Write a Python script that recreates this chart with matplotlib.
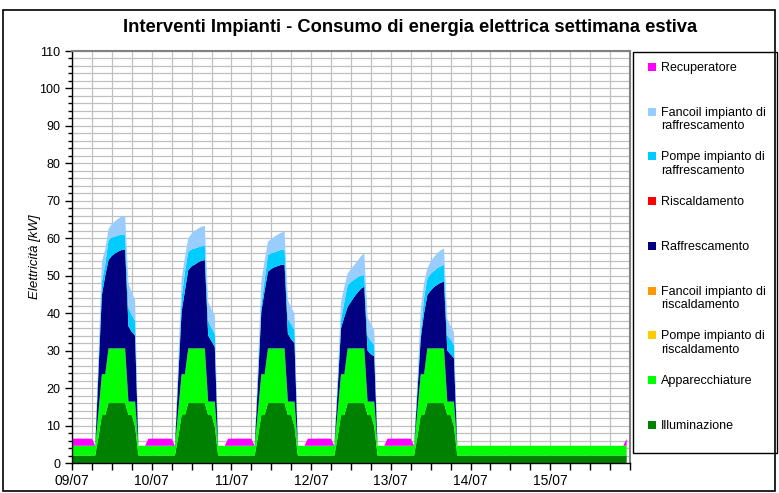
import numpy as np
import matplotlib
matplotlib.use("Agg")
import matplotlib.pyplot as plt
from matplotlib.patches import Rectangle

plt.rcParams['font.family'] = ['Liberation Sans', 'DejaVu Sans']

W, H, DPI = 779, 493, 100

title = "Interventi Impianti - Consumo di energia elettrica settimana estiva"
ylabel = "Elettricità [kW]"
day_labels = ["09/07", "10/07", "11/07", "12/07", "13/07", "14/07", "15/07"]
n_days = 7
n_workdays = 5

# Hourly weekday profiles (kW), hours 0..23
illuminazione_feriale = [2, 2, 2, 2, 2, 2, 2, 2, 7, 12.8, 12.8, 16, 16, 16, 16, 16, 16,
                         12.8, 12.8, 9.7, 2, 2, 2, 2]
apparecchiature_feriale = [2.6, 2.6, 2.6, 2.6, 2.6, 2.6, 2.6, 2.6, 7, 10.9, 10.9, 14.6, 14.6,
                           14.6, 14.6, 14.6, 14.6, 3.6, 3.6, 6.7, 2.6, 2.6, 2.6, 2.6]
# Weekend base loads (kW)
illuminazione_festivo = 2.0
apparecchiature_festivo = 2.6

# Cooling loads per working day, hours 8..19 (kW)
cool_start_hour = 8
raffrescamento = [
    [11, 21.2, 26.3, 23.6, 24.7, 25.4, 25.9, 26.3, 26.4, 20.1, 18.6, 17.6],
    [9, 16.7, 22.3, 20.9, 21.9, 22.4, 23.0, 23.4, 23.6, 17.6, 16.1, 14.6],
    [8, 16.7, 22.3, 20.5, 21.2, 21.7, 22.0, 22.3, 22.4, 18.1, 16.6, 15.6],
    [6, 12.3, 15.3, 11.1, 12.4, 13.8, 14.9, 15.9, 16.5, 13.6, 12.6, 12.1],
    [5, 9.6, 16.3, 14.3, 15.4, 16.4, 17.0, 17.5, 17.8, 13.6, 12.6, 11.6],
]
pompe_raffrescamento = [
    [2, 3.5, 3.0, 5.3, 4.9, 4.5, 4.3, 4.1, 4.0, 5.0, 4.5, 4.0],
    [2, 3.6, 5.0, 4.9, 4.5, 4.3, 4.0, 3.8, 3.8, 4.0, 3.5, 3.5],
    [2, 1.8, 3.0, 4.4, 4.2, 4.0, 4.0, 4.0, 4.0, 4.0, 4.0, 3.5],
    [1.5, 2.2, 4.0, 5.8, 5.3, 4.6, 4.1, 3.5, 3.1, 4.0, 3.5, 3.0],
    [1.5, 1.7, 4.0, 4.4, 4.5, 4.3, 4.4, 4.4, 4.5, 4.0, 4.0, 3.5],
]
fancoil_raffrescamento = [
    [2, 5.4, 4.0, 3.0, 3.6, 4.1, 4.5, 4.8, 5.0, 6.5, 6.0, 5.5],
    [2, 5.0, 4.0, 3.6, 4.2, 4.7, 5.0, 5.3, 5.3, 5.0, 5.0, 5.0],
    [2, 6.2, 5.0, 3.6, 3.8, 4.2, 4.4, 4.6, 4.8, 5.0, 4.5, 4.5],
    [1.5, 4.8, 4.0, 3.1, 3.5, 3.9, 4.4, 5.2, 5.8, 5.0, 4.5, 4.0],
    [1.5, 6.3, 4.0, 2.7, 3.3, 3.7, 4.0, 4.3, 4.4, 4.5, 3.5, 3.5],
]
# Heat-recovery unit: pre-conditioning before working days (kW)
recuperatore_livello = 1.9
recuperatore_ore_mattino = [0, 1, 2, 3, 4, 5, 6]
recuperatore_sera_giorni = [0, 1, 2, 3, 6]  # days with the unit on at 23:00

# Series in stacking order (bottom -> top)
series_names = ["Illuminazione", "Apparecchiature", "Pompe impianto di\nriscaldamento",
                "Fancoil impianto di\nriscaldamento", "Raffrescamento", "Riscaldamento",
                "Pompe impianto di\nraffrescamento", "Fancoil impianto di\nraffrescamento",
                "Recuperatore"]
series_colors = ["#008000", "#00FF00", "#FFCC00", "#FF9900", "#000080", "#FF0000",
                 "#00CCFF", "#99CCFF", "#FF00FF"]

# ---- build hourly series for the whole week ----
n_hours = 24 * n_days
hours = np.arange(n_hours)
illum = np.zeros(n_hours)
appl = np.zeros(n_hours)
raff = np.zeros(n_hours)
pompe_r = np.zeros(n_hours)
fan_r = np.zeros(n_hours)
recup = np.zeros(n_hours)
zero = np.zeros(n_hours)

for d in range(n_days):
    s = 24 * d
    if d < n_workdays:
        illum[s:s + 24] = illuminazione_feriale
        appl[s:s + 24] = apparecchiature_feriale
        c0 = s + cool_start_hour
        n = len(raffrescamento[d])
        raff[c0:c0 + n] = raffrescamento[d]
        pompe_r[c0:c0 + n] = pompe_raffrescamento[d]
        fan_r[c0:c0 + n] = fancoil_raffrescamento[d]
        for h in recuperatore_ore_mattino:
            recup[s + h] = recuperatore_livello
    else:
        illum[s:s + 24] = illuminazione_festivo
        appl[s:s + 24] = apparecchiature_festivo
for d in recuperatore_sera_giorni:
    recup[24 * d + 23] = recuperatore_livello

layers = [illum, appl, zero, zero, raff, zero, pompe_r, fan_r, recup]

# ---- figure ----
fig = plt.figure(figsize=(W / DPI, H / DPI), dpi=DPI)

def fx(px):
    return px / W

def fy(py):
    return 1 - py / H

# outer chart border
fig.patches.append(Rectangle((fx(3), fy(491)), fx(775) - fx(3), fy(10) - fy(491),
                             transform=fig.transFigure, fill=False, ec="black", lw=1.2))

ax = fig.add_axes([fx(72), fy(463), fx(630) - fx(72), fy(51) - fy(463)])
polys = ax.stackplot(hours, *layers, colors=series_colors, linewidth=0, zorder=2)

ax.set_xlim(0, n_hours)
ax.set_ylim(0, 110)
xt = np.arange(0, n_hours + 1, 6)
ax.set_xticks(xt)
ax.set_xticklabels([day_labels[t // 24] if (t % 24 == 0 and t // 24 < n_days) else "" for t in xt])
ax.set_yticks(np.arange(0, 111, 10))
ax.set_yticks(np.arange(0, 111, 2), minor=True)
ax.grid(which="major", axis="x", color="#c0c0c0", lw=0.9, zorder=0)
ax.grid(which="both", axis="y", color="#c0c0c0", lw=0.9, zorder=0)
ax.set_axisbelow(True)
ax.tick_params(axis="both", which="major", direction="out", length=5, width=1, color="black",
               labelsize=9)
ax.tick_params(axis="x", labelsize=10, pad=3)
ax.tick_params(axis="y", which="minor", direction="out", length=3, width=1, color="black")
for side in ("top", "right"):
    ax.spines[side].set_color("#808080")
    ax.spines[side].set_linewidth(1.5)
for side in ("left", "bottom"):
    ax.spines[side].set_color("black")
    ax.spines[side].set_linewidth(1)
ax.set_ylabel(ylabel, fontstyle="italic", fontsize=9.5, labelpad=-1)

fig.text(fx(410), fy(28), title, ha="center", va="center", fontsize=13.2, fontweight="bold")

# legend box (entries listed from top of stack to bottom)
lx0, lx1, ly0, ly1 = 633, 777, 52, 453
fig.patches.append(Rectangle((fx(lx0), fy(ly1)), fx(lx1) - fx(lx0), fy(ly0) - fy(ly1),
                             transform=fig.transFigure, fill=False, ec="black", lw=1.0))
first_y, step_y = 67, 44.7
for i, k in enumerate(reversed(range(len(series_names)))):
    yc = first_y + step_y * i
    fig.patches.append(Rectangle((fx(648), fy(yc + 4)), fx(8), fy(0) - fy(8),
                                 transform=fig.transFigure, fc=series_colors[k], ec="none"))
    fig.text(fx(661), fy(yc - 5), series_names[k], ha="left", va="top", fontsize=9,
             linespacing=1.15)

fig.savefig("out.png", dpi=DPI)
